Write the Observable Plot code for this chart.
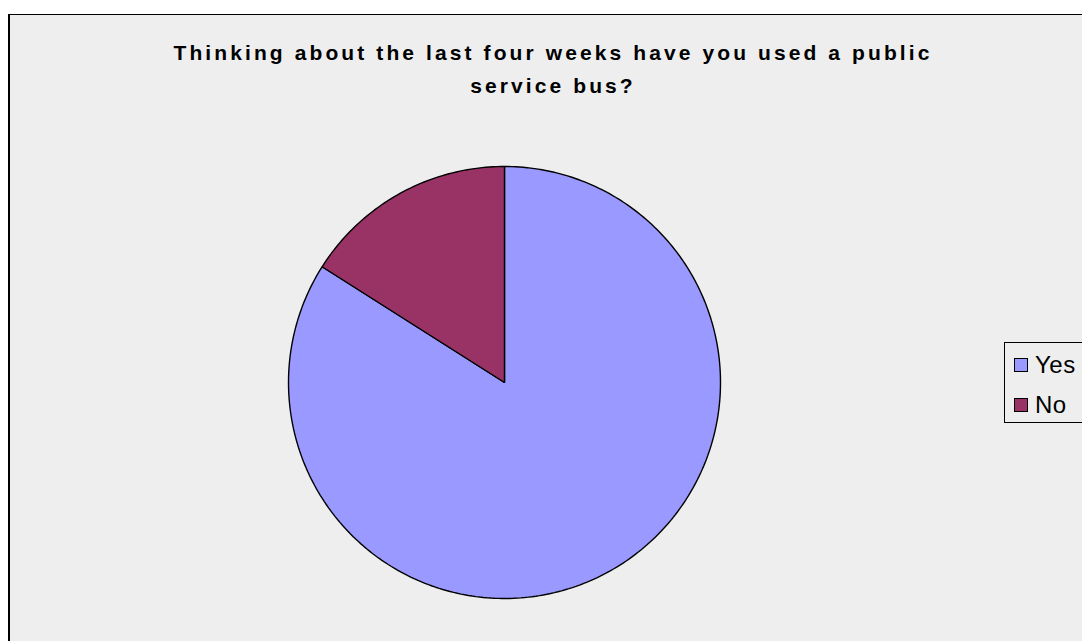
<!DOCTYPE html>
<html>
<head>
<meta charset="utf-8">
<script src="https://cdn.jsdelivr.net/npm/d3@7"></script>
<script src="https://cdn.jsdelivr.net/npm/@observablehq/plot@0.6"></script>
<style>
  html, body { margin: 0; padding: 0; background: #ffffff; overflow: hidden; }
  #wrap { position: relative; width: 1082px; height: 641px; overflow: hidden; font-family: Arial, "Liberation Sans", sans-serif; }
  #frame { position: absolute; left: 8px; top: 14px; width: 1090px; height: 640px; border: 1px solid #000; border-left-width: 2px; background: #eeeeee; box-sizing: border-box; }
  #title { position: absolute; left: 8px; width: 1090px; top: 36px; text-align: center; font-weight: bold; font-size: 21px; letter-spacing: 3.1px; line-height: 33px; color: #000; }
  #chart { position: absolute; left: 0; top: 0; }
  #legend { position: absolute; left: 1004px; top: 342px; width: 110px; height: 81px; border: 1px solid #000; background: #eeeeee; box-sizing: border-box; }
  .item { position: absolute; left: 9px; font-size: 24px; line-height: 24px; height: 24px; }
  .sw { position: absolute; left: 0; top: 5px; width: 12px; height: 12px; border: 1px solid #000; }
  .lab { position: absolute; left: 21px; top: 0; white-space: nowrap; letter-spacing: 0.5px; }
</style>
</head>
<body>
<div id="wrap">
  <div id="frame"></div>
  <div id="title">Thinking about the last four weeks have you used a public<br>service bus?</div>
  <div id="chart"></div>
  <div id="legend"></div>
</div>
<script>
const categories = ["Yes", "No"];
const values = [84, 16];
const colors = ["#9999FF", "#993366"];

const data = categories.map((c, i) => ({category: c, value: values[i]}));
const arcs = d3.pie().sort(null).value(d => d.value)(data);

function slicePolygon(a) {
  const pts = [[0, 0]];
  const n = Math.max(2, Math.ceil((a.endAngle - a.startAngle) / (Math.PI / 180)));
  for (let k = 0; k <= n; k++) {
    const t = a.startAngle + (a.endAngle - a.startAngle) * k / n;
    pts.push([Math.sin(t), -Math.cos(t)]);
  }
  pts.push([0, 0]);
  return {type: "Feature", properties: {category: a.data.category}, geometry: {type: "Polygon", coordinates: [pts]}};
}
const features = arcs.map(slicePolygon);
const domainBox = {type: "Polygon", coordinates: [[[-1, -1], [1, -1], [1, 1], [-1, 1], [-1, -1]]]};

const chart = Plot.plot({
  width: 1082,
  height: 641,
  marginLeft: 288,
  marginRight: 362,
  marginTop: 166,
  marginBottom: 43,
  projection: {type: "identity", domain: domainBox},
  color: {domain: categories, range: colors},
  style: {background: "transparent", overflow: "visible"},
  marks: [
    Plot.geo(features, {fill: d => d.properties.category, stroke: "#000", strokeWidth: 1.4, strokeLinejoin: "miter"})
  ]
});
document.getElementById("chart").appendChild(chart);

const legend = document.getElementById("legend");
categories.forEach((c, i) => {
  const item = document.createElement("div");
  item.className = "item";
  item.style.top = (10 + i * 40) + "px";
  const sw = document.createElement("div");
  sw.className = "sw";
  sw.style.background = colors[i];
  const lab = document.createElement("span");
  lab.className = "lab";
  lab.textContent = c;
  item.appendChild(sw);
  item.appendChild(lab);
  legend.appendChild(item);
});
</script>
</body>
</html>
